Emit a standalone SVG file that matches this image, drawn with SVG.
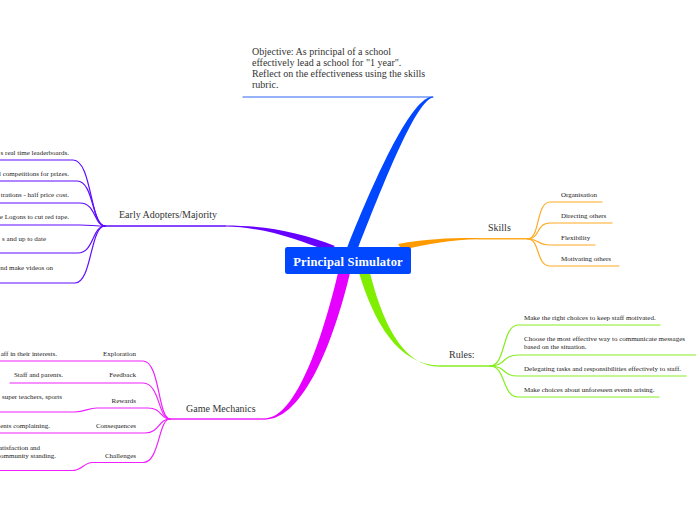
<svg xmlns="http://www.w3.org/2000/svg" width="696" height="520" viewBox="0 0 696 520">
<style>
.lbl{font-family:"Liberation Serif",serif;font-size:10px;fill:#333}
.leaf{font-family:"Liberation Serif",serif;font-size:7px;fill:#222}
.title{font-family:"Liberation Serif",serif;font-size:12.5px;font-weight:bold;fill:#fff;letter-spacing:0.2px}
.ln{fill:none;stroke-width:1.2;stroke-linecap:round}
.bl{stroke:#2f66f2}
.pu{stroke:#5f0bff}
.or{stroke:#ffaa22}
.gr{stroke:#88ee22}
.mg{stroke:#ee22ff}
</style>
<rect width="696" height="520" fill="#fff"/>
<g id="connectors">
  <!-- blue -->
  <path d="M347,248 C378,170 413,96 433,96.5 L433,97.5 C417,100 387,174 358,248 Z" fill="#0047ff"/>
  <path class="ln bl" d="M243,97 L433,97"/>
  <!-- purple -->
  <path d="M335,246 C300,232 265,225.5 225,225.4 L225,226.6 C265,227 298,240 328,251 Z" fill="#6600ff"/>
  <path class="ln pu" style="stroke-width:1.6" d="M225,226 L105,226"/>
  <path class="ln pu" d="M105,226 C90,226 92,160 73,160 L0,160"/>
  <path class="ln pu" d="M105,226 C92,226 94,181 77,181 L0,181"/>
  <path class="ln pu" d="M105,226 C94,226 96,203 80,203 L0,203"/>
  <path class="ln pu" d="M105,226 C95,226 90,225 80,225 L0,225"/>
  <path class="ln pu" d="M105,226 C92,226 94,253 78,253 L0,253"/>
  <path class="ln pu" d="M105,226 C90,226 92,283 75,283 L0,283"/>
  <!-- orange -->
  <path d="M398,244 C425,239 450,238 478,238.1 L478,239.3 C452,239.5 428,244 402,250 Z" fill="#ff9a00"/>
  <path class="ln or" style="stroke-width:1.5" d="M478,238.7 L528,238.7"/>
  <path class="ln or" d="M528,239 C540,239 536,202 550,202 L602,202"/>
  <path class="ln or" d="M528,239 C540,239 536,223 550,223 L612,223"/>
  <path class="ln or" d="M528,239 C540,239 536,245 550,245 L595,245"/>
  <path class="ln or" d="M528,239 C540,239 536,266 550,266 L619,266"/>
  <!-- green -->
  <path d="M359,273 C374,322 398,365.4 440,365.4 L440,366.6 C402,367 382,320 370,273 Z" fill="#7fee00"/>
  <path class="ln gr" style="stroke-width:1.5" d="M440,366 L490,366"/>
  <path class="ln gr" d="M490,366 C506,366 502,325 518,325 L660,325"/>
  <path class="ln gr" d="M490,366 C506,366 502,355 518,355 L696,355"/>
  <path class="ln gr" d="M490,366 C506,366 502,376 518,376 L686,376"/>
  <path class="ln gr" d="M490,366 C506,366 502,397 518,397 L659,397"/>
  <!-- magenta -->
  <path d="M338,273 C322,340 296,417.5 265,418.4 L265,419.6 C304,419 334,340 350,273 Z" fill="#e600ff"/>
  <path class="ln mg" style="stroke-width:1.5" d="M265,419 L170,419"/>
  <path class="ln mg" d="M170,419 C158,419 160,361 143,361 L0,361"/>
  <path class="ln mg" d="M170,419 C158,419 160,383 143,383 L10,383"/>
  <path class="ln mg" d="M170,419 C160,419 162,408 148,408 L97,408 C88,408 85,412 75,412 L0,412"/>
  <path class="ln mg" d="M170,419 C158,419 160,433 145,433 L0,433"/>
  <path class="ln mg" d="M170,419 C158,419 160,462.5 143,462.5 L92,462.5 C84,462.5 82,470.5 72,470.5 L0,470.5"/>
</g>
<g id="central">
  <rect x="285" y="247" width="126" height="27" rx="2.5" fill="#0047ff"/>
  <text class="title" x="348" y="265.5" text-anchor="middle">Principal Simulator</text>
</g>
<g id="objective">
  <text class="lbl" x="252" y="55">Objective: As principal of a school</text>
  <text class="lbl" x="252" y="66">effectively lead a school for "1 year".</text>
  <text class="lbl" x="252" y="77">Reflect on the effectiveness using the skills</text>
  <text class="lbl" x="252" y="88">rubric.</text>
</g>
<g id="early-adopters">
  <text class="lbl" x="119" y="218">Early Adopters/Majority</text>
</g>
<g id="ea-leaves">
  <text class="leaf" x="69" y="154.5" text-anchor="end">s real time leaderboards.</text>
  <text class="leaf" x="69" y="175.5" text-anchor="end">l competitions for prizes.</text>
  <text class="leaf" x="69" y="196.5" text-anchor="end">trations - half price cost.</text>
  <text class="leaf" x="69" y="218.5" text-anchor="end">e Logons to cut red tape.</text>
  <text class="leaf" x="46" y="240.5" text-anchor="end">s and up to date</text>
  <text class="leaf" x="53" y="269.5" text-anchor="end">nd make videos on</text>
</g>
<g id="skills">
  <text class="lbl" x="488" y="231">Skills</text>
</g>
<g id="skill-leaves">
  <text class="leaf" x="561" y="197">Organisation</text>
  <text class="leaf" x="561" y="218">Directing others</text>
  <text class="leaf" x="561" y="240">Flexibility</text>
  <text class="leaf" x="561" y="261">Motivating others</text>
</g>
<g id="rules">
  <text class="lbl" x="449" y="358">Rules:</text>
</g>
<g id="rule-leaves">
  <text class="leaf" x="524" y="320">Make the right choices to keep staff motivated.</text>
  <text class="leaf" x="524" y="341">Choose the most effective way to communicate messages</text>
  <text class="leaf" x="524" y="349">based on the situation.</text>
  <text class="leaf" x="524" y="370.5">Delegating tasks and responsibilities effectively to staff.</text>
  <text class="leaf" x="524" y="391.5">Make choices about unforeseen events arising.</text>
</g>
<g id="game-mechanics">
  <text class="lbl" x="186" y="412">Game Mechanics</text>
</g>
<g id="gm-leaves">
  <text class="leaf" x="136" y="356" text-anchor="end">Exploration</text>
  <text class="leaf" x="57" y="356" text-anchor="end">aff in their interests.</text>
  <text class="leaf" x="136" y="377" text-anchor="end">Feedback</text>
  <text class="leaf" x="63" y="377" text-anchor="end">Staff and parents.</text>
  <text class="leaf" x="136" y="402.5" text-anchor="end">Rewards</text>
  <text class="leaf" x="62" y="398.5" text-anchor="end">super teachers, sports</text>
  <text class="leaf" x="136" y="428" text-anchor="end">Consequences</text>
  <text class="leaf" x="50" y="428" text-anchor="end">ents complaining.</text>
  <text class="leaf" x="136" y="458" text-anchor="end">Challenges</text>
  <text class="leaf" x="40" y="450" text-anchor="end">atisfaction and</text>
  <text class="leaf" x="56" y="458" text-anchor="end">ommunity standing.</text>
</g>
</svg>
